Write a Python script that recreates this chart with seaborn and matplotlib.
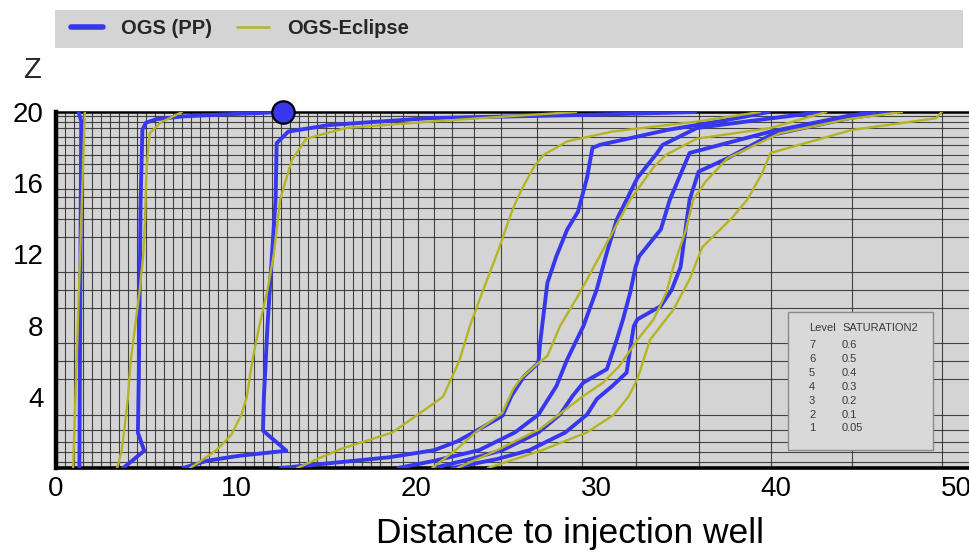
import matplotlib
matplotlib.use("Agg")
import matplotlib.pyplot as plt
from matplotlib.lines import Line2D
from matplotlib.patches import Rectangle
import pandas as pd
import seaborn as sns

sns.set_theme(style="white")
plt.rcParams["font.family"] = ["Liberation Sans", "DejaVu Sans"]

W, H = 970, 552

# Saturation contour levels (level number -> SATURATION2 value)
levels = [7, 6, 5, 4, 3, 2, 1]
level_values = ["0.6", "0.5", "0.4", "0.3", "0.2", "0.1", "0.05"]

# OGS (PP) contours: depth z and distance x for each level
pp7_z = [0, 10, 19.5, 20]
pp7_x = [1.3, 1.35, 1.4, 1.25]
pp6_z = [0, 0.97, 1.98, 5, 10, 15, 19.0, 19.4, 19.6, 19.75, 19.85, 19.93, 20]
pp6_x = [3.74, 4.9, 4.55, 4.6, 4.65, 4.7, 4.8, 5.0, 5.6, 7.0, 9.0, 11.0, 12.5]
pp5_z = [0, 0.41, 0.69, 0.97, 2.1, 4, 8, 12, 15.1, 18.25, 18.9, 19.27, 19.66, 19.85, 20]
pp5_x = [7.07, 8.4, 10.2, 12.8, 11.5, 11.55, 11.75, 12.0, 12.2, 12.26, 12.9, 15.2, 20.8, 30.0, 35.5]
pp4_z = [0, 0.3, 0.6, 1.0, 1.5, 2.0, 2.93, 4.05, 5.15, 5.9, 7.06, 8.5, 10.4, 11.9, 13.4, 14.4, 16.3, 17.98, 18.15, 19.0, 19.5, 20]
pp4_x = [12.5, 15.5, 18.5, 21.0, 22.3, 23.2, 24.8, 25.3, 26.0, 26.8, 26.9, 27.07, 27.3, 27.8, 28.4, 29.0, 29.5, 29.8, 30.2, 34.0, 37.0, 39.6]
pp3_z = [0, 0.4, 1, 2, 3, 4.6, 6.1, 7.97, 10.03, 12.1, 13.95, 15.07, 16.3, 17.7, 18.15, 19.1, 19.55, 20]
pp3_x = [19.0, 21.0, 23.5, 25.5, 26.8, 27.8, 28.4, 29.3, 30.04, 30.6, 31.15, 31.7, 32.3, 33.4, 33.7, 35.6, 39.0, 42.5]
pp2_z = [0, 0.5, 1.0, 2, 3, 4.05, 4.8, 5.55, 7.2, 8.35, 9.86, 11.3, 11.9, 13.4, 15.07, 17.7, 18.9, 19.8, 20]
pp2_x = [21.0, 23.0, 24.8, 26.8, 28.0, 28.7, 29.3, 30.6, 31.15, 31.5, 31.9, 32.2, 32.4, 33.6, 34.1, 35.2, 39.7, 44.1, 45.5]
pp1_z = [0, 0.5, 1, 2, 3, 3.87, 4.6, 5.36, 6.7, 7.97, 8.35, 9.1, 10.0, 11.3, 13.6, 15.07, 16.65, 17.4, 18.7, 19.66, 20]
pp1_x = [22.0, 24.5, 26.3, 28.3, 29.5, 30.04, 30.9, 31.7, 31.9, 32.1, 32.3, 33.6, 34.2, 34.7, 35.0, 35.2, 35.7, 37.3, 39.7, 44.1, 46.5]

# OGS-Eclipse contours
ecl7_z = [0, 20]
ecl7_x = [0.95, 1.6]
ecl6_z = [0, 1, 2.2, 4, 6, 8, 10, 12, 14, 16, 17, 18.8, 19.4, 20]
ecl6_x = [3.4, 3.65, 3.8, 4.0, 4.15, 4.4, 4.65, 4.85, 4.95, 5.0, 5.05, 5.2, 5.8, 7.0]
ecl5_z = [0, 0.5, 1.0, 1.5, 1.9, 3, 4, 6, 8, 10, 12, 15.07, 17.3, 18.5, 19.1, 19.46, 19.75, 20]
ecl5_x = [7.45, 8.2, 8.9, 9.4, 9.76, 10.3, 10.6, 10.9, 11.3, 11.75, 12.1, 12.45, 13.1, 13.9, 16.1, 20.8, 25.0, 28.9]
ecl4_z = [0, 0.5, 1.06, 2.0, 2.93, 4, 6, 8, 9.65, 12.3, 14.35, 15.07, 15.9, 17.0, 17.6, 18.35, 18.9, 19.46, 20]
ecl4_x = [13.4, 14.5, 15.8, 18.7, 20.0, 21.5, 22.4, 23.0, 23.6, 24.6, 25.3, 25.6, 26.0, 26.6, 27.1, 28.4, 30.9, 35.6, 39.1]
ecl3_z = [0, 1, 2, 3.1, 4.43, 5, 5.73, 6.3, 7.97, 9.84, 10.96, 12.65, 13.95, 15.07, 16.9, 17.6, 18.5, 19.1, 20]
ecl3_x = [20.9, 22.2, 23.3, 24.8, 25.4, 25.8, 26.6, 27.3, 28.0, 29.1, 29.7, 30.6, 31.3, 31.9, 33.2, 33.9, 35.6, 39.7, 42.8]
ecl2_z = [0, 1, 2.2, 3.2, 4.05, 4.8, 5.73, 7.2, 8.35, 9.84, 11.3, 13.4, 15.07, 16.1, 17.4, 18.8, 19.6, 20]
ecl2_x = [22.3, 24.5, 26.9, 28.2, 29.3, 30.4, 31.3, 32.3, 33.2, 33.9, 34.3, 35.0, 35.4, 36.1, 37.3, 40.2, 44.0, 47.0]
ecl1_z = [0, 1, 2, 3, 4, 5, 7.2, 8.9, 10.6, 12.4, 14.1, 15.07, 16.5, 17.7, 18.99, 19.65, 20]
ecl1_x = [24.0, 27.0, 29.5, 31.0, 31.8, 32.3, 33.0, 34.3, 35.2, 35.9, 37.6, 38.4, 39.2, 39.7, 44.2, 48.9, 49.2]

# Injection well position
well_x = [12.6]
well_z = [20]

# Computational mesh lines
mesh_x = [0.5, 1, 1.5, 2, 2.5, 3, 3.5, 4, 4.5, 5, 5.5, 6, 6.5, 7, 7.5, 8, 8.5, 9, 9.5,
          10, 10.5, 11, 11.5, 12, 12.5, 13, 13.5, 14, 14.5, 15, 15.5, 16, 16.5, 17, 17.5,
          18.0, 18.6, 19.3, 20.1, 21.0, 22.0, 23.2, 24.7, 26.7, 29.2, 32.2, 35.7, 39.7,
          44.2, 49.2]
mesh_z = [0.35, 0.9, 1.47, 2.13, 3, 4, 5, 6, 7, 8, 9, 10, 11, 12, 13, 14, 14.6,
          15.2, 15.7, 16.0, 16.55, 17.1, 17.6, 18.15, 18.6, 19.09, 19.46, 19.79]

curves = {
    "OGS (PP)": [(pp7_x, pp7_z), (pp6_x, pp6_z), (pp5_x, pp5_z), (pp4_x, pp4_z),
                 (pp3_x, pp3_z), (pp2_x, pp2_z), (pp1_x, pp1_z)],
    "OGS-Eclipse": [(ecl7_x, ecl7_z), (ecl6_x, ecl6_z), (ecl5_x, ecl5_z), (ecl4_x, ecl4_z),
                    (ecl3_x, ecl3_z), (ecl2_x, ecl2_z), (ecl1_x, ecl1_z)],
}
rows = []
for model, lines in curves.items():
    for lev, (xs, zs) in zip(levels, lines):
        for x, z in zip(xs, zs):
            rows.append({"model": model, "level": lev, "dist": x, "z": z})
df = pd.DataFrame(rows)

blue = "#3737ee"
olive = "#b4b424"
bg = "#d4d4d4"

fig = plt.figure(figsize=(W / 100, H / 100), dpi=100)
fig.patch.set_facecolor("white")

x0, x1 = 56, 970
y_top, y_bot = 112, 468
ax = fig.add_axes([x0 / W, 1 - y_bot / H, (x1 - x0) / W, (y_bot - y_top) / H])
ax.set_facecolor(bg)
xmax = (x1 - x0) / 18.0
ax.set_xlim(0, xmax)
ax.set_ylim(0, 20)

# mesh as minor grid
ax.set_xticks(mesh_x, minor=True)
ax.set_yticks(mesh_z, minor=True)
ax.grid(which="minor", color="#2a2a2a", linewidth=0.8, alpha=0.85)
ax.grid(which="major", visible=False)
ax.tick_params(which="minor", length=0)

sns.lineplot(data=df[df.model == "OGS (PP)"], x="dist", y="z", units="level",
             estimator=None, orient="y", sort=True, color=blue, linewidth=2.8,
             ax=ax, legend=False, zorder=4)
sns.lineplot(data=df[df.model == "OGS-Eclipse"], x="dist", y="z", units="level",
             estimator=None, orient="y", sort=True, color=olive, linewidth=1.7,
             ax=ax, legend=False, zorder=5)

ax.scatter(well_x, well_z, s=260, color=blue, edgecolor="black", linewidth=1.6,
           zorder=10, clip_on=False)

ax.set_xticks([0, 10, 20, 30, 40, 50])
ax.set_yticks([4, 8, 12, 16, 20])
ax.tick_params(axis="both", which="major", direction="in", length=7, width=1.6,
               labelsize=20, color="black", labelcolor="black")
ax.tick_params(axis="y", pad=9)
ax.tick_params(axis="x", pad=6)
ax.set_xlabel("")
ax.set_ylabel("")

for side, lw in [("left", 3.2), ("bottom", 2.6), ("top", 1.8)]:
    ax.spines[side].set_visible(True)
    ax.spines[side].set_color("black")
    ax.spines[side].set_linewidth(lw)
ax.spines["right"].set_visible(False)

fig.text(570 / W, 1 - 533 / H, "Distance to injection well", fontsize=25.5,
         ha="center", va="center", color="black")
fig.text(32 / W, 1 - 70 / H, "Z", fontsize=21, ha="center", va="center")

# legend band
fig.patches.append(Rectangle((55 / W, 1 - 48 / H), (963 - 55) / W, 38 / H,
                             transform=fig.transFigure, facecolor=bg, edgecolor="none",
                             zorder=0))
handles = [Line2D([], [], color=blue, linewidth=4.0),
           Line2D([], [], color=olive, linewidth=1.8)]
fig.legend(handles, ["OGS (PP)", "OGS-Eclipse"], loc="center left",
           bbox_to_anchor=(53 / W, 1 - 29 / H), ncol=2, frameon=False,
           prop={"weight": "bold", "size": 14.5}, handlelength=1.6,
           handletextpad=0.9, columnspacing=1.2)

# level table box
bx0, by0, bx1, by1 = 788, 312, 933, 450
ax.add_patch(Rectangle((bx0 / W, 1 - by1 / H), (bx1 - bx0) / W, (by1 - by0) / H,
                       transform=fig.transFigure, facecolor="#d9d9d9",
                       edgecolor="#8a8a8a", linewidth=1.0, zorder=20, clip_on=False))
tkw = dict(fontsize=8, color="#3a3a3a", va="center", zorder=21)
fig.text(809 / W, 1 - 328 / H, "Level", **tkw)
fig.text(842 / W, 1 - 328 / H, "SATURATION2", **tkw)
for i, (lev, val) in enumerate(zip(levels, level_values)):
    yy = 345 + i * 13.9
    fig.text(809 / W, 1 - yy / H, str(lev), **tkw)
    fig.text(842 / W, 1 - yy / H, val, **tkw)

fig.savefig("out.png", dpi=100)
